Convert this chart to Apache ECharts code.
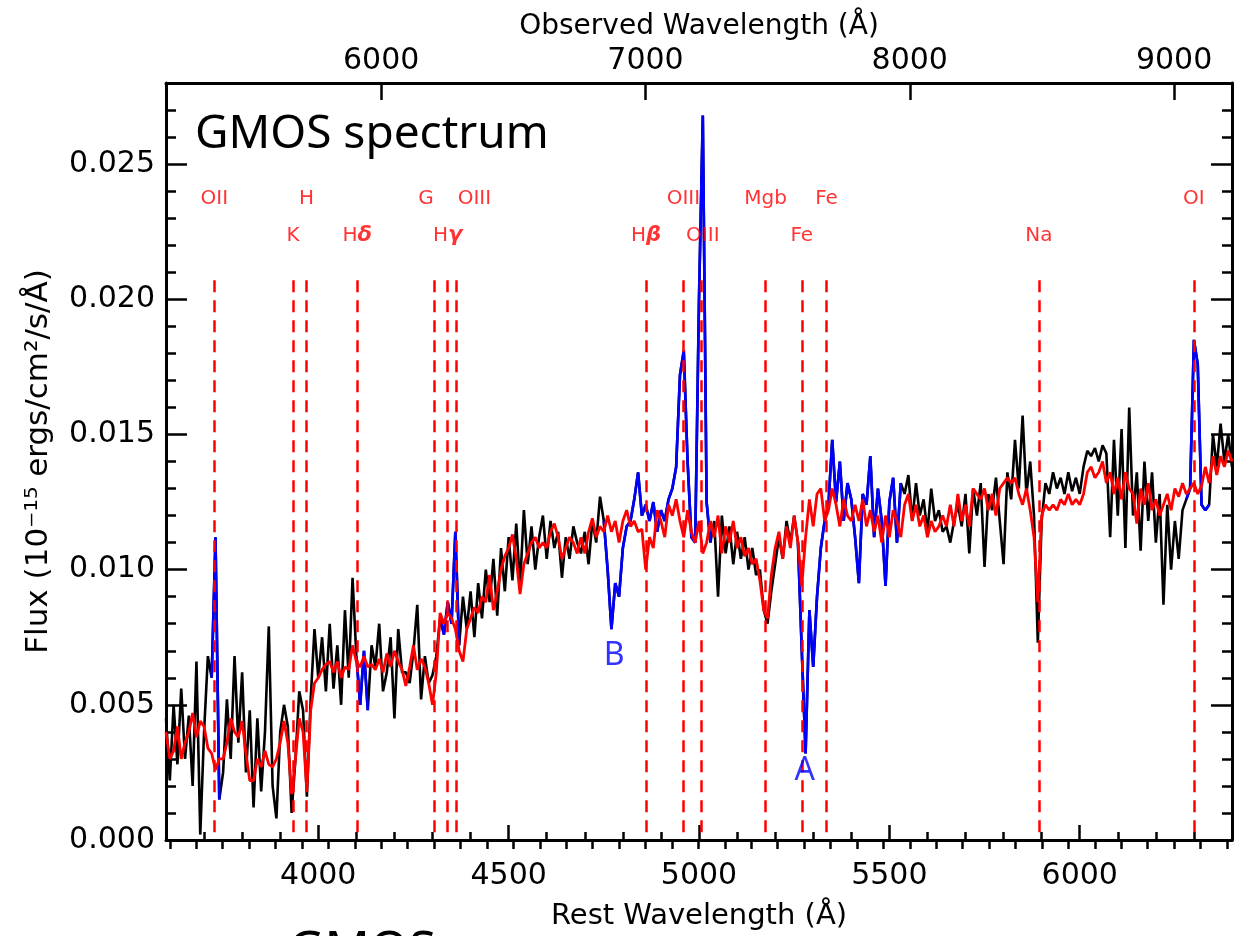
<!DOCTYPE html>
<html><head><meta charset="utf-8">
<script src="https://cdn.jsdelivr.net/npm/echarts@6/dist/echarts.min.js"></script>
<style>html,body{margin:0;padding:0;background:#fff}#c{width:1234px;height:936px}</style>
</head><body><div id="c"></div>
<script>
// ---------- data ----------
const restWavelength = [
3600,3610,3620,3630,3640,3650,3660,3670,3680,3690,
3700,3710,3720,3730,3740,3750,3760,3770,3780,3790,
3800,3810,3820,3830,3840,3850,3860,3870,3880,3890,
3900,3910,3920,3930,3940,3950,3960,3970,3980,3990,
4000,4010,4020,4030,4040,4050,4060,4070,4080,4090,
4100,4110,4120,4130,4140,4150,4160,4170,4180,4190,
4200,4210,4220,4230,4240,4250,4260,4270,4280,4290,
4300,4310,4320,4330,4340,4350,4360,4370,4380,4390,
4400,4410,4420,4430,4440,4450,4460,4470,4480,4490,
4500,4510,4520,4530,4540,4550,4560,4570,4580,4590,
4600,4610,4620,4630,4640,4650,4660,4670,4680,4690,
4700,4710,4720,4730,4740,4750,4760,4770,4780,4790,
4800,4810,4820,4830,4840,4850,4860,4870,4880,4890,
4900,4910,4920,4930,4940,4950,4960,4970,4980,4990,
5000,5010,5020,5030,5040,5050,5060,5070,5080,5090,
5100,5110,5120,5130,5140,5150,5160,5170,5180,5190,
5200,5210,5220,5230,5240,5250,5260,5270,5280,5290,
5300,5310,5320,5330,5340,5350,5360,5370,5380,5390,
5400,5410,5420,5430,5440,5450,5460,5470,5480,5490,
5500,5510,5520,5530,5540,5550,5560,5570,5580,5590,
5600,5610,5620,5630,5640,5650,5660,5670,5680,5690,
5700,5710,5720,5730,5740,5750,5760,5770,5780,5790,
5800,5810,5820,5830,5840,5850,5860,5870,5880,5890,
5900,5910,5920,5930,5940,5950,5960,5970,5980,5990,
6000,6010,6020,6030,6040,6050,6060,6070,6080,6090,
6100,6110,6120,6130,6140,6150,6160,6170,6180,6190,
6200,6210,6220,6230,6240,6250,6260,6270,6280,6290,
6300,6310,6320,6330,6340,6350,6360,6370,6380,6390,
6400];

// observed GMOS flux (10^-15 ergs/cm^2/s/A)
const observedFlux = [
0.0045,0.0022,0.0050,0.0028,0.0056,0.0030,0.0046,0.0020,0.0066,0.0002,
0.0040,0.0068,0.0060,0.0112,0.0015,0.0025,0.0052,0.0030,0.0068,0.0036,
0.0062,0.0025,0.0048,0.0012,0.0045,0.0018,0.0040,0.0079,0.0020,0.0008,
0.0040,0.0050,0.0042,0.0010,0.0030,0.0055,0.0048,0.0016,0.0052,0.0078,
0.0060,0.0075,0.0055,0.0080,0.0056,0.0072,0.0050,0.0085,0.0060,0.0097,
0.0068,0.0050,0.0070,0.0048,0.0072,0.0064,0.0080,0.0055,0.0062,0.0075,
0.0045,0.0078,0.0062,0.0062,0.0058,0.0070,0.0087,0.0052,0.0068,0.0058,
0.0061,0.0068,0.0082,0.0076,0.0088,0.0080,0.0114,0.0072,0.0090,0.0078,
0.0092,0.0075,0.0095,0.0082,0.0100,0.0088,0.0104,0.0083,0.0108,0.0092,
0.0112,0.0096,0.0117,0.0094,0.0122,0.0102,0.0116,0.0100,0.0112,0.0120,
0.0104,0.0118,0.0108,0.0114,0.0097,0.0112,0.0104,0.0116,0.0110,0.0106,
0.0114,0.0102,0.0118,0.0110,0.0127,0.0118,0.0100,0.0078,0.0095,0.0090,
0.0108,0.0116,0.0118,0.0126,0.0136,0.0120,0.0124,0.0118,0.0125,0.0114,
0.0122,0.0118,0.0126,0.0130,0.0138,0.0172,0.0181,0.0140,0.0112,0.0110,
0.0200,0.0268,0.0125,0.0110,0.0118,0.0090,0.0120,0.0106,0.0116,0.0102,
0.0114,0.0104,0.0112,0.0100,0.0108,0.0098,0.0100,0.0085,0.0080,0.0092,
0.0102,0.0112,0.0104,0.0118,0.0110,0.0120,0.0110,0.0070,0.0032,0.0085,
0.0064,0.0090,0.0108,0.0118,0.0124,0.0148,0.0125,0.0140,0.0118,0.0132,
0.0126,0.0112,0.0095,0.0128,0.0124,0.0142,0.0112,0.0130,0.0118,0.0094,
0.0125,0.0134,0.0110,0.0132,0.0128,0.0135,0.0118,0.0132,0.0120,0.0126,
0.0114,0.0130,0.0118,0.0122,0.0114,0.0116,0.0110,0.0118,0.0124,0.0116,
0.0128,0.0106,0.0130,0.0120,0.0132,0.0101,0.0128,0.0122,0.0134,0.0118,
0.0102,0.0136,0.0126,0.0148,0.0130,0.0157,0.0128,0.0140,0.0120,0.0073,
0.0118,0.0132,0.0128,0.0136,0.0130,0.0134,0.0128,0.0136,0.0129,0.0134,
0.0128,0.0138,0.0144,0.0142,0.0145,0.0140,0.0146,0.0143,0.0112,0.0148,
0.0120,0.0152,0.0108,0.0160,0.0120,0.0136,0.0107,0.0140,0.0118,0.0136,
0.0110,0.0128,0.0087,0.0124,0.0100,0.0118,0.0104,0.0122,0.0126,0.0130,
0.0185,0.0176,0.0124,0.0122,0.0124,0.0150,0.0138,0.0154,0.0140,0.0150,
0.0138];

// model fit (red)
const modelFlux = [
0.0040,0.0030,0.0033,0.0042,0.0030,0.0036,0.0040,0.0047,0.0038,0.0044,
0.0042,0.0034,0.0032,0.0026,0.0030,0.0030,0.0036,0.0045,0.0040,0.0038,
0.0044,0.0032,0.0022,0.0022,0.0030,0.0027,0.0033,0.0028,0.0027,0.0030,
0.0036,0.0044,0.0036,0.0017,0.0030,0.0045,0.0040,0.0018,0.0048,0.0058,
0.0060,0.0063,0.0065,0.0066,0.0062,0.0066,0.0060,0.0064,0.0063,0.0072,
0.0066,0.0064,0.0068,0.0064,0.0065,0.0063,0.0067,0.0062,0.0069,0.0064,
0.0070,0.0066,0.0063,0.0057,0.0064,0.0072,0.0063,0.0067,0.0064,0.0058,
0.0050,0.0062,0.0084,0.0080,0.0084,0.0082,0.0078,0.0070,0.0066,0.0078,
0.0082,0.0086,0.0084,0.0090,0.0088,0.0098,0.0085,0.0092,0.0100,0.0105,
0.0108,0.0113,0.0104,0.0091,0.0102,0.0106,0.0110,0.0112,0.0108,0.0110,
0.0108,0.0114,0.0117,0.0112,0.0104,0.0108,0.0112,0.0110,0.0106,0.0112,
0.0106,0.0114,0.0119,0.0112,0.0116,0.0114,0.0120,0.0114,0.0118,0.0110,
0.0118,0.0122,0.0116,0.0118,0.0114,0.0115,0.0100,0.0112,0.0108,0.0122,
0.0118,0.0112,0.0124,0.0120,0.0126,0.0118,0.0112,0.0122,0.0114,0.0110,
0.0118,0.0106,0.0110,0.0118,0.0112,0.0120,0.0106,0.0116,0.0110,0.0118,
0.0108,0.0112,0.0105,0.0108,0.0102,0.0104,0.0096,0.0085,0.0082,0.0098,
0.0108,0.0114,0.0104,0.0116,0.0108,0.0120,0.0110,0.0094,0.0112,0.0126,
0.0116,0.0128,0.0130,0.0118,0.0122,0.0130,0.0124,0.0116,0.0126,0.0120,
0.0118,0.0124,0.0118,0.0126,0.0116,0.0122,0.0114,0.0120,0.0110,0.0120,
0.0112,0.0122,0.0118,0.0112,0.0124,0.0128,0.0118,0.0124,0.0116,0.0120,
0.0112,0.0118,0.0114,0.0116,0.0120,0.0116,0.0124,0.0116,0.0128,0.0118,
0.0124,0.0116,0.0130,0.0128,0.0126,0.0130,0.0122,0.0128,0.0120,0.0130,
0.0132,0.0134,0.0132,0.0134,0.0128,0.0124,0.0130,0.0122,0.0112,0.0088,
0.0120,0.0124,0.0122,0.0124,0.0122,0.0126,0.0124,0.0128,0.0124,0.0126,
0.0124,0.0128,0.0136,0.0138,0.0134,0.0136,0.0140,0.0132,0.0136,0.0128,
0.0134,0.0126,0.0136,0.0130,0.0128,0.0117,0.0130,0.0124,0.0132,0.0122,
0.0126,0.0120,0.0124,0.0128,0.0122,0.0130,0.0127,0.0132,0.0128,0.0130,
0.0132,0.0128,0.0131,0.0138,0.0132,0.0142,0.0135,0.0142,0.0138,0.0144,
0.0140];

// rest-wavelength ranges drawn in blue (emission lines / telluric bands)
const maskedRanges = [[3715,3745],[4095,4135],[4315,4375],[4745,5035],[5255,5535],[6275,6345]];

// spectral line markers
const lineNames   = ['OII','K','H','Hδ','G','Hγ','OIII','Hβ','OIII','OIII','Mgb','Fe','Fe','Na','OI'];
const lineLambda  = [3727,3934,3969,4102,4304,4340,4363,4861,4959,5007,5175,5270,5335,5893,6300];
const labelLambda = [3727,3934,3969,4102,4283,4340,4410,4861,4959,5010,5175,5270,5335,5893,6300];
const labelRow    = [1,2,1,2,1,2,1,2,1,2,1,2,1,2,1];
const rowFlux     = {1:0.02370, 2:0.02235};
const lineTopFlux = 0.0207;

// telluric band annotations
const bandNames  = ['B','A'];
const bandLambda = [4777,5278];
const bandFlux   = [0.0068,0.00257];

// axes
const onePlusZ = 1.4405;
const restMin = 3600, restMax = 6400;
const fluxMin = 0, fluxMax = 0.028;
const restMajorTicks = [4000,4500,5000,5500,6000];
const obsMajorTicks = [6000,7000,8000,9000];
const obsMinorTicks = [5200,5300,5400,5500,5600,5700,5800,5900,6000,6100,6200,6300,6400,6500,6600,6700,6800,6900,7000,7100,7200,7300,7400,7500,7600,7700,7800,7900,8000,8100,8200,8300,8400,8500,8600,8700,8800,8900,9000,9100,9200];
const fluxMajorTicks = [0,0.005,0.010,0.015,0.020,0.025];

// ---------- build ----------
const inMask = l => maskedRanges.some(r => l >= r[0] && l <= r[1]);
const blackData = restWavelength.map((l,i)=>[l, observedFlux[i]]);
const blueData  = restWavelength.map((l,i)=> inMask(l) ? [l, observedFlux[i]] : [l, null]);
const redData   = restWavelength.map((l,i)=>[l, modelFlux[i]]);

const FONT = 'DejaVu Sans';
const tickStyle = {color:'#000', width:2.5};
const plain = v => String(Math.round(v));
function baseAxis(extra){ return Object.assign({type:'value', splitLine:{show:false}, axisPointer:{show:false}}, extra); }

const chart = echarts.init(document.getElementById('c'), null, {renderer:'canvas'});
chart.setOption({
  animation:false,
  backgroundColor:'#fff',
  grid:{left:166, right:2, top:83, bottom:91, containLabel:false},
  xAxis:[
    baseAxis({position:'bottom', min:restMin, max:restMax,
      axisLine:{show:true, onZero:false, lineStyle:{color:'#000', width:3}},
      axisTick:{show:true, inside:true, length:15, lineStyle:tickStyle, customValues:restMajorTicks},
      axisLabel:{customValues:restMajorTicks, formatter:plain, fontSize:30, fontFamily:FONT, color:'#000', margin:21},
      name:'Rest Wavelength (Å)', nameLocation:'middle', nameGap:62,
      nameTextStyle:{fontSize:29, fontFamily:FONT, color:'#000'}}),
    baseAxis({position:'bottom', min:restMin, max:restMax, interval:100,
      axisLine:{show:false}, axisTick:{show:true, inside:true, length:8, lineStyle:tickStyle},
      axisLabel:{show:false}}),
    baseAxis({position:'top', min:restMin*onePlusZ, max:restMax*onePlusZ,
      axisLine:{show:true, onZero:false, lineStyle:{color:'#000', width:3}},
      axisTick:{show:true, inside:true, length:17, lineStyle:tickStyle, customValues:obsMajorTicks},
      axisLabel:{customValues:obsMajorTicks, formatter:plain, fontSize:30, fontFamily:FONT, color:'#000', margin:7},
      name:'Observed Wavelength (Å)', nameLocation:'middle', nameGap:34,
      nameTextStyle:{fontSize:28, fontFamily:FONT, color:'#000'}}),
    baseAxis({position:'top', min:restMin*onePlusZ, max:restMax*onePlusZ,
      axisLine:{show:false}, axisTick:{show:true, inside:true, length:9, lineStyle:tickStyle, customValues:obsMinorTicks},
      axisLabel:{show:false}})
  ],
  yAxis:[
    baseAxis({position:'left', min:fluxMin, max:fluxMax,
      axisLine:{show:true, onZero:false, lineStyle:{color:'#000', width:3}},
      axisTick:{show:true, inside:true, length:21, lineStyle:tickStyle, customValues:fluxMajorTicks},
      axisLabel:{customValues:fluxMajorTicks, formatter:v=>v.toFixed(3), fontSize:30, fontFamily:FONT, color:'#000', margin:11},
      name:'Flux (10⁻¹⁵ ergs/cm²/s/Å)', nameLocation:'middle', nameGap:112, nameRotate:90,
      nameTextStyle:{fontSize:31, fontFamily:FONT, color:'#000'}}),
    baseAxis({position:'left', min:fluxMin, max:fluxMax, interval:0.001,
      axisLine:{show:false}, axisTick:{show:true, inside:true, length:10, lineStyle:tickStyle},
      axisLabel:{show:false}}),
    baseAxis({position:'right', min:fluxMin, max:fluxMax,
      axisLine:{show:true, onZero:false, lineStyle:{color:'#000', width:3}},
      axisTick:{show:true, inside:true, length:21, lineStyle:tickStyle, customValues:fluxMajorTicks},
      axisLabel:{show:false}}),
    baseAxis({position:'right', min:fluxMin, max:fluxMax, interval:0.001,
      axisLine:{show:false}, axisTick:{show:true, inside:true, length:10, lineStyle:tickStyle},
      axisLabel:{show:false}})
  ],
  graphic:[
    {type:'text', left:195, top:112, z:50,
     style:{text:'GMOS spectrum', font:'46px "Noto Sans"', fill:'#000'}},
    {type:'text', left:288, top:927, z:50,
     style:{text:'GMOS', font:'50px "Noto Sans"', fill:'#000'}}
  ],
  series:[
    {name:'observed', type:'line', xAxisIndex:0, yAxisIndex:0, data:blackData, showSymbol:false, symbol:'none',
     lineStyle:{color:'#000000', width:2.6}, z:2, silent:true},
    {name:'masked', type:'line', xAxisIndex:0, yAxisIndex:0, data:blueData, showSymbol:false, symbol:'none', connectNulls:false,
     lineStyle:{color:'#0000ff', width:2.7}, z:3, silent:true},
    {name:'model', type:'line', xAxisIndex:0, yAxisIndex:0, data:redData, showSymbol:false, symbol:'none',
     lineStyle:{color:'#ff0000', width:2.8}, z:4, silent:true},
    {name:'lines', type:'line', xAxisIndex:0, yAxisIndex:0, data:[], z:6, silent:true,
     markLine:{silent:true, symbol:['none','none'], label:{show:false},
       lineStyle:{color:'#ff0000', width:2.5, type:[12,8]},
       data: lineLambda.map(l=>[{coord:[l, lineTopFlux]},{coord:[l, fluxMin]}])}},
    {name:'lineLabels', type:'scatter', xAxisIndex:0, yAxisIndex:0, symbolSize:0, z:7, silent:true,
     data: lineNames.map((n,i)=>({name:n, value:[labelLambda[i], rowFlux[labelRow[i]]]})),
     label:{show:true, position:'inside', color:'#ff0000', fontSize:20, fontFamily:FONT,
       formatter:p=>{ const n=p.name; return /[βγδ]/.test(n) ? 'H{g|'+n.slice(1)+'}' : n; },
       rich:{g:{fontSize:21, fontStyle:'italic', fontWeight:'bold', color:'#ff0000', fontFamily:FONT}}}},
    {name:'bands', type:'scatter', xAxisIndex:0, yAxisIndex:0, symbolSize:0, z:7, silent:true,
     data: bandNames.map((n,i)=>({name:n, value:[bandLambda[i], bandFlux[i]]})),
     label:{show:true, position:'inside', color:'#0000ff', fontSize:32, fontFamily:'Noto Sans', formatter:p=>p.name}}
  ]
});
</script></body></html>
